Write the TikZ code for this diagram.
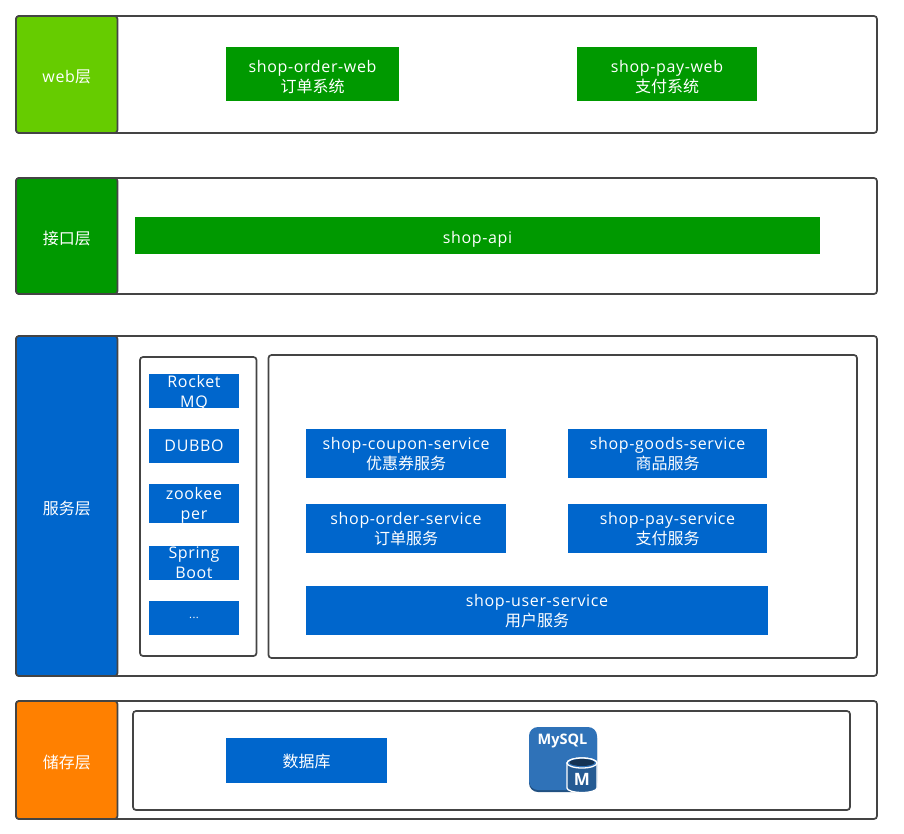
\documentclass[tikz,border=0pt]{standalone}
\usepackage{fontspec}
\setmainfont{Open Sans}[LetterSpace=4]
\newfontfamily\cjk{Noto Sans CJK SC}
\definecolor{framegray}{HTML}{444444}
\definecolor{leaf}{HTML}{66CC00}
\definecolor{forest}{HTML}{009900}
\definecolor{azure}{HTML}{0066CC}
\definecolor{amber}{HTML}{FF8000}
\definecolor{dbblue}{HTML}{2F72B8}
% place a node by its pixel corners: name, x0, y0, x1, y1, style, text
\newcommand{\pxbox}[7]{%
  \pgfmathsetmacro{\bw}{#4-#2}\pgfmathsetmacro{\bh}{#5-#3}%
  \pgfmathsetmacro{\cx}{(#2+#4)/2}\pgfmathsetmacro{\cy}{-(#3+#5)/2}%
  \node[#6,minimum width=\bw pt,minimum height=\bh pt] (#1) at (\cx pt,\cy pt) {#7};}
% lower a line of text without changing the size of its box
\newcommand{\sunk}[2]{\raisebox{-#1}[\height][\depth]{#2}}
\tikzset{
  framebox/.style={draw=framegray,line width=1.7pt,rounded corners=3pt,fill=white,inner sep=0pt,outer sep=0pt},
  layerbox/.style={framebox,text=white,font=\fontsize{16}{20}\selectfont,text depth=0pt},
  itembox/.style={fill=#1,text=white,inner sep=0pt,outer sep=0pt,align=center,
    font=\fontsize{16}{20}\selectfont,text depth=0pt},
}
\begin{document}
\begin{tikzpicture}[x=1pt,y=1pt]
\useasboundingbox (0,0) rectangle (904,-833);
% web layer
\pxbox{webframe}{16}{16}{877}{133}{framebox}{}
\pxbox{weblabel}{16}{16}{117.5}{133}{layerbox,fill=leaf}{\sunk{2pt}{web{\cjk 层}}}
\pxbox{orderweb}{226}{47}{399}{101}{itembox=forest}{\sunk{2pt}{shop-order-web}\\\sunk{2pt}{\cjk 订单系统}}
\pxbox{payweb}{577}{47}{757}{101}{itembox=forest}{\sunk{2pt}{shop-pay-web}\\\sunk{2pt}{\cjk 支付系统}}
% interface layer
\pxbox{apiframe}{16}{178}{877}{294}{framebox}{}
\pxbox{apilabel}{16}{178}{117.5}{294}{layerbox,fill=forest}{\sunk{2pt}{\cjk 接口层}}
\pxbox{shopapi}{135}{217}{820}{254}{itembox=forest}{\sunk{2pt}{shop-api}}
% service layer
\pxbox{svcframe}{16}{336}{877}{676}{framebox}{}
\pxbox{svclabel}{16}{336}{117.5}{676}{layerbox,fill=azure}{\sunk{2pt}{\cjk 服务层}}
\pxbox{stackframe}{140}{357}{256.5}{656}{framebox}{}
\pxbox{svcinner}{268.5}{355}{857}{658}{framebox}{}
\pxbox{rocketmq}{149}{374}{239}{408}{itembox=azure}{Rocket\\MQ}
\pxbox{dubbo}{149}{429}{239}{463}{itembox=azure}{DUBBO}
\pxbox{zookeeper}{149}{484}{239}{523}{itembox=azure}{zookee\\per}
\pxbox{springboot}{149}{546}{239}{580}{itembox=azure}{Spring\\Boot}
\pxbox{etc}{149}{601}{239}{635}{itembox=azure}{\fontsize{11}{14}\selectfont ...}
\pxbox{coupon}{306}{429}{506}{478}{itembox=azure}{shop-coupon-service\\{\cjk 优惠券服务}}
\pxbox{goods}{568}{429}{767}{478}{itembox=azure}{shop-goods-service\\{\cjk 商品服务}}
\pxbox{ordersvc}{306}{504}{506}{553}{itembox=azure}{shop-order-service\\{\cjk 订单服务}}
\pxbox{paysvc}{568}{504}{767}{553}{itembox=azure}{shop-pay-service\\{\cjk 支付服务}}
\pxbox{usersvc}{306}{586}{768}{635}{itembox=azure}{shop-user-service\\{\cjk 用户服务}}
% storage layer
\pxbox{dbframe}{16}{701}{877}{819}{framebox}{}
\pxbox{dblabel}{16}{701}{117.5}{819}{layerbox,fill=amber}{\sunk{2pt}{\cjk 储存层}}
\pxbox{dbinner}{133}{711}{850}{810}{framebox}{}
\pxbox{database}{226}{738}{387}{783}{itembox=azure}{{\cjk 数据库}}
% MySQL emblem: rounded tile with a small cylinder at its lower right
\fill[dbblue!70!black,rounded corners=9pt] (529,-729) rectangle (597,-792);
\fill[dbblue,rounded corners=9pt] (529,-727) rectangle (597,-790);
\node[text=white,inner sep=0pt,font=\fontsize{14.5}{16}\bfseries\selectfont\addfontfeature{LetterSpace=0}] (mysql) at (562.5,-741) {MySQL};
\fill[dbblue!80!black,draw=white,line width=1.3pt]
  (567,-763) -- (567,-788) arc[start angle=180,end angle=360,x radius=15,y radius=4.5]
  -- (597,-763) arc[start angle=0,end angle=180,x radius=15,y radius=5] -- cycle;
\fill[dbblue,draw=white,line width=1.3pt] (582,-763) ellipse[x radius=15,y radius=5];
\fill[dbblue!45!black] (582,-762.5) ellipse[x radius=12.5,y radius=3.5];
\node[text=white,inner sep=0pt,font=\fontsize{17}{18}\bfseries\selectfont\addfontfeature{LetterSpace=0}] (mark) at (582,-779) {M};
\end{tikzpicture}
\end{document}
